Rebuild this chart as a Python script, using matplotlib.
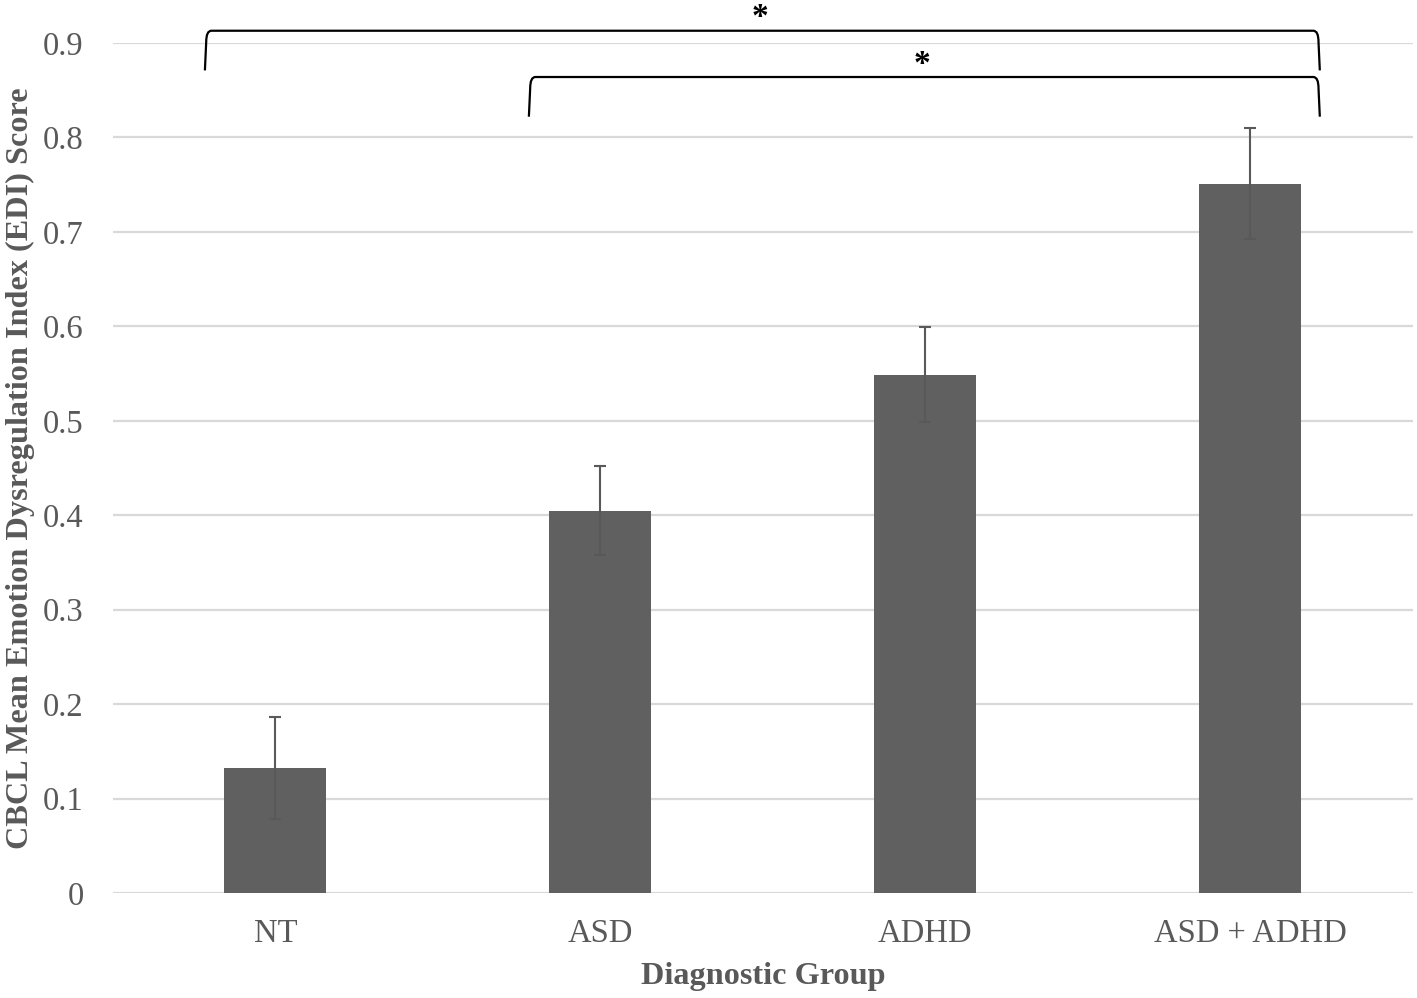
import matplotlib.pyplot as plt
from matplotlib.path import Path
from matplotlib.patches import PathPatch

groups = ["NT", "ASD", "ADHD", "ASD + ADHD"]
means = [0.132, 0.405, 0.549, 0.751]
errors = [0.054, 0.047, 0.050, 0.059]
yticks = [0, 0.1, 0.2, 0.3, 0.4, 0.5, 0.6, 0.7, 0.8, 0.9]

# significance brackets: (x start, x end, top, bottom of ends)
brackets = [(-0.217, 3.214, 0.913, 0.871), (0.78, 3.214, 0.864, 0.822)]
star_pos = [(1.49, 0.911), (1.99, 0.861)]

plt.rcParams['font.family'] = ['Liberation Serif', 'DejaVu Serif']
grey = '#595959'

fig = plt.figure(figsize=(14.17, 9.98), dpi=100)
ax = fig.add_axes([0.0797, 0.1052, 0.9173, 0.8517])

x = list(range(len(groups)))
ax.bar(x, means, width=0.314, color='#606060', zorder=3)
ax.errorbar(x, means, yerr=errors, fmt='none', ecolor='#595959',
            elinewidth=1.5, capsize=4.5, capthick=1.5, zorder=4)

ax.set_xlim(-0.5, 3.5)
ax.set_ylim(0, 0.9)
ax.set_yticks(yticks)
ax.set_yticklabels([f"{t:g}" for t in yticks])
ax.set_xticks(x)
ax.set_xticklabels(groups)
ax.yaxis.grid(True, color='#d9d9d9', linewidth=1.6, zorder=0)
ax.set_axisbelow(True)
for s in ax.spines.values():
    s.set_visible(False)
ax.tick_params(axis='both', length=0, labelsize=23.5, labelcolor=grey)
ax.tick_params(axis='y', pad=21)
ax.tick_params(axis='x', pad=18)

ax.set_xlabel("Diagnostic Group", fontsize=23.2, fontweight='bold', color=grey, labelpad=10)
ax.set_ylabel("CBCL Mean Emotion Dysregulation Index (EDI) Score", fontsize=23.2,
              fontweight='bold', color=grey, labelpad=6)

rx, ry = 0.02, 0.012
for x1, x2, top, low in brackets:
    verts = [(x1, low), (x1 + 0.004, top - ry), (x1 + 0.004, top), (x1 + rx, top),
             (x2 - rx, top), (x2 - 0.004, top), (x2 - 0.004, top - ry), (x2, low)]
    codes = [Path.MOVETO, Path.LINETO, Path.CURVE3, Path.CURVE3,
             Path.LINETO, Path.CURVE3, Path.CURVE3, Path.LINETO]
    ax.add_patch(PathPatch(Path(verts, codes), fill=False, edgecolor='black',
                           linewidth=1.6, clip_on=False, zorder=5))

for sx, sy in star_pos:
    ax.text(sx, sy, "*", ha='center', va='bottom', fontsize=24, fontweight='bold',
            color='black', clip_on=False)

fig.savefig("out.png", dpi=100)
